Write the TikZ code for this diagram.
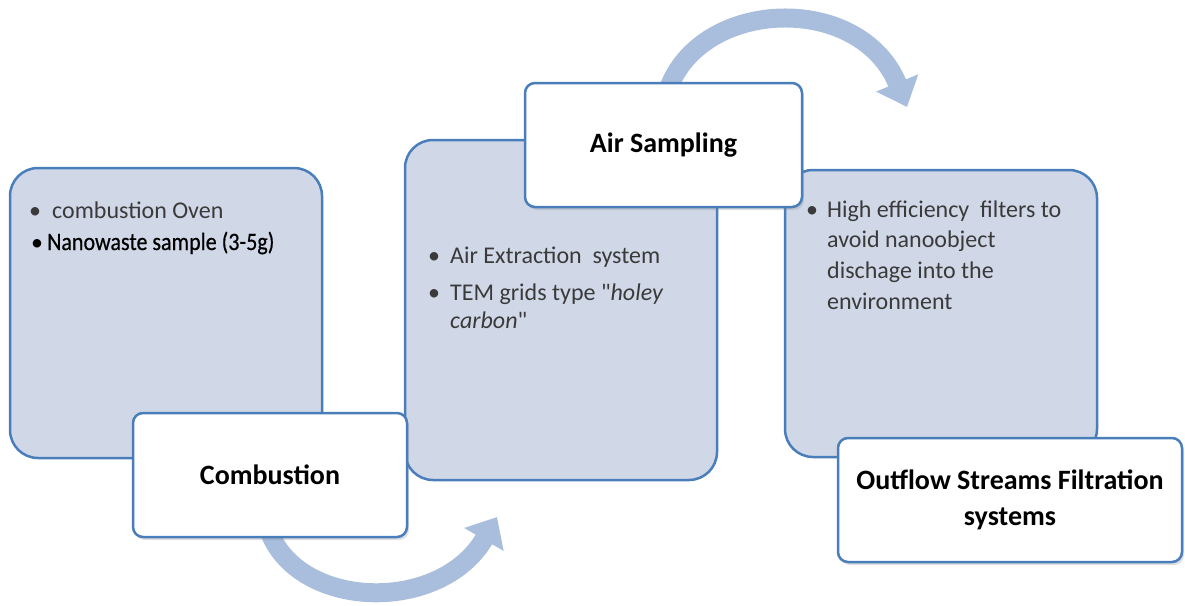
\documentclass[tikz,border=0pt]{standalone}
\usepackage{fontspec}
\setmainfont{Carlito}
\newfontfamily\condfont[FakeStretch=0.88,FakeBold=0.5]{Carlito}
\newfontfamily\straightq[Ligatures=TeXOff]{Carlito}
\newcommand{\sq}{{\straightq\char34}}
\usetikzlibrary{arrows.meta,shadows}
\definecolor{boxfill}{HTML}{D0D8E8}
\definecolor{boxline}{HTML}{4A7EBB}
\definecolor{arrowblue}{HTML}{A9BEDD}
\definecolor{txtgray}{HTML}{3A3A3A}
\tikzset{
 bluebox/.style={draw=boxline, line width=2.5pt, fill=boxfill, rounded corners=28pt, inner sep=0pt, outer sep=0pt},
 whitebox/.style={draw=boxline, line width=2.5pt, fill=white, rounded corners=10pt, inner sep=0pt, outer sep=0pt, align=center, font=\fontsize{28}{36}\selectfont\bfseries, drop shadow={shadow xshift=2pt,shadow yshift=-3pt,opacity=0.25}},
 flowarrow/.style={draw=arrowblue, line width=19pt, -{Triangle[width=44pt,length=26pt]}},
 bodytxt/.style={anchor=base west, inner sep=0pt, text=txtgray, font=\fontsize{24}{28}\selectfont},
 bul/.style={anchor=base, inner sep=0pt, text=txtgray, font=\fontsize{24}{28}\selectfont},
}
\begin{document}
\begin{tikzpicture}[x=1pt,y=-1pt]
\useasboundingbox (0,0) rectangle (1185,605);
% flow arrows (behind boxes)
\coordinate (a1s) at (268,528);
\coordinate (a1e) at (497,517);
\coordinate (a2s) at (668,90);
\coordinate (a2e) at (907,107);
\draw[flowarrow] (a1s) .. controls (295,610) and (440,615) .. (a1e);
\draw[flowarrow] (a2s) .. controls (700,-2) and (860,-8) .. (a2e);
% blue content boxes
\node[bluebox, minimum width=312pt, minimum height=290pt] (b1) at (166,313) {};
\node[bluebox, minimum width=312pt, minimum height=340pt] (b2) at (561,310) {};
\node[bluebox, minimum width=312pt, minimum height=287pt] (b3) at (941,313.5) {};
% box 1 text
\node[bul] (b1u1) at (35,218) {•};
\node[bodytxt] (b1t1) at (52,218) {combustion Oven};
\node[bul, text=black] (b1u2) at (37,250) {•};
\node[bodytxt, text=black, font=\fontsize{25}{28}\condfont] (b1t2) at (47,250) {Nanowaste sample (3-5g)};
% box 2 text
\node[bul] (b2u1) at (434,263) {•};
\node[bodytxt] (b2t1) at (450,263) {Air Extraction\ \ system};
\node[bul] (b2u2) at (434,300) {•};
\node[bodytxt] (b2t2) at (450,300) {TEM grids type \sq\textit{holey}};
\node[bodytxt] (b2t3) at (450,328) {\textit{carbon}\sq};
% box 3 text
\node[bul] (b3u1) at (812,217) {•};
\node[bodytxt] (b3t1) at (827,217) {High efficiency\ \ filters to};
\node[bodytxt] (b3t2) at (827,247) {avoid nanoobject};
\node[bodytxt] (b3t3) at (827,278) {dischage into the};
\node[bodytxt] (b3t4) at (827,309) {environment};
% white title boxes
\node[whitebox, minimum width=274pt, minimum height=124pt] (comb) at (270,475) {Combustion};
\node[whitebox, minimum width=277pt, minimum height=124pt] (air) at (663.5,145) {Air Sampling};
\node[whitebox, minimum width=344pt, minimum height=124pt] (out) at (1010,500) {Outflow Streams Filtration\\systems};
\end{tikzpicture}
\end{document}
